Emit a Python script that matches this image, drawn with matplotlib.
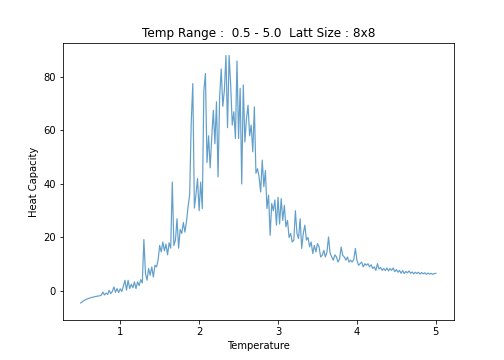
import matplotlib
matplotlib.use("Agg")
import matplotlib.pyplot as plt
import numpy as np

# heat capacity, one value every 0.02 in temperature
heat_low = [
    -4.5, -4.0, -3.6, -3.3, -3.0, -2.8, -2.6, -2.4, -2.3, -2.1,   # 0.50
    -2.0, -1.9, -1.8, -1.6, -0.4, -1.5, -0.8, -1.3, 0.2, -1.0,    # 0.70
    -0.2, 1.5, -0.5, 0.9, -0.6, 0.8, -0.2, 1.8, 4.0, 0.3,         # 0.90
    4.0, 0.9, 2.5, 1.2, 3.4, 0.9, 3.4, 2.0, 4.2, 3.0,             # 1.10
    19.2, 6.5, 4.0, 8.4, 5.9, 9.0, 5.2, 9.6, 9.0, 11.5,           # 1.30
    17.0, 14.6, 18.3, 15.0, 17.5, 13.5, 18.0, 16.0, 40.7, 17.0,   # 1.50
    19.0, 27.0, 16.0, 23.0, 21.5, 25.6, 22.0, 26.0, 31.5, 35.8,   # 1.70
]
heat_peak = [
    63.0, 77.5, 31.0, 36.0, 42.0, 30.0, 40.7, 30.8, 75.0, 81.3,   # 1.90
    48.0, 58.0, 46.0, 57.6, 67.5, 55.0, 70.7, 42.6, 72.5, 83.0,   # 2.10
    69.0, 75.0, 88.0, 61.0, 88.0, 77.0, 62.0, 67.0, 57.0, 86.0,   # 2.30
    57.0, 75.7, 40.0, 77.0, 55.7, 64.4, 69.4, 58.0, 62.0, 52.0,   # 2.50
    68.8, 44.0, 45.7, 42.6, 37.0, 48.9, 39.0, 45.0, 30.8, 35.8,   # 2.70
]
heat_tail = [
    20.8, 32.7, 30.0, 34.0, 24.6, 35.0, 25.0, 34.5, 26.4, 32.0,   # 2.90
    24.0, 26.4, 20.0, 21.5, 18.3, 19.0, 30.0, 21.5, 19.6, 27.0,   # 3.10
    15.9, 21.5, 24.6, 19.0, 20.0, 16.5, 18.3, 14.0, 17.0, 14.6,   # 3.30
    17.7, 16.5, 12.7, 13.3, 15.2, 12.7, 14.5, 20.2, 14.0, 12.7,   # 3.50
    11.5, 13.5, 12.7, 10.8, 12.0, 16.4, 13.3, 12.7, 11.5, 12.7,   # 3.70
    10.8, 11.5, 10.8, 11.8, 15.9, 11.5, 9.6, 10.2, 10.8, 9.0,     # 3.90
    10.2, 9.6, 10.2, 9.0, 9.8, 8.4, 9.0, 7.7, 10.2, 8.2,          # 4.10
    8.8, 7.7, 8.4, 7.6, 8.6, 7.5, 8.4, 7.7, 8.6, 7.2,             # 4.30
    8.0, 7.0, 7.7, 6.6, 7.6, 6.5, 7.3, 6.8, 7.5, 6.6,             # 4.50
    7.1, 6.4, 7.0, 6.5, 7.0, 6.3, 6.9, 6.4, 6.8, 6.2,             # 4.70
    6.7, 6.3, 6.6, 6.2, 6.5, 6.6,                                 # 4.90
]

heat = np.array(heat_low + heat_peak + heat_tail)
temps = np.linspace(0.5, 5.0, len(heat))

fig, ax = plt.subplots(figsize=(7, 5), dpi=72)
ax.plot(temps, heat, color='C0', alpha=0.7, linewidth=1.2)
ax.set_ylim(-11, 92.6)
ax.set_title('Temp Range :  0.5 - 5.0  Latt Size : 8x8')
ax.set_xlabel('Temperature')
ax.set_ylabel('Heat Capacity')

fig.savefig('out.png', dpi=72)
